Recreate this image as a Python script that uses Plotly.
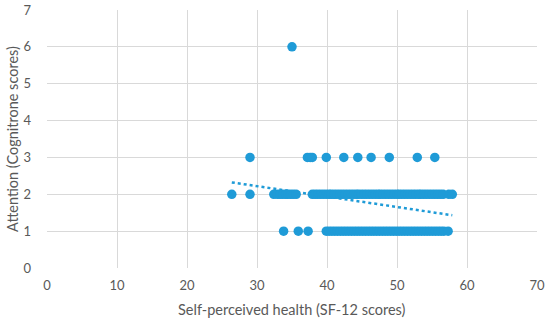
import plotly.graph_objects as go

# Data
x_row1 = [33.8, 35.9, 37.3, 39.9, 40.3, 40.7, 41.1, 41.5, 41.9, 42.3, 42.7, 43.1, 43.5,
          43.9, 44.3, 44.7, 45.1, 45.5, 45.9, 46.3, 46.7, 47.1, 47.5, 47.9, 48.3, 48.7,
          49.1, 49.5, 49.9, 50.3, 50.7, 51.1, 51.5, 51.9, 52.3, 52.7, 53.1, 53.5, 53.9,
          54.3, 54.7, 55.1, 55.5, 55.9, 56.3, 56.7, 57.3]
x_row2 = [26.4, 29.0, 32.4, 32.9, 33.3, 33.7, 34.1, 34.4, 34.8, 35.2, 35.6, 37.9, 38.3,
          38.7, 39.1, 39.5, 39.9, 40.3, 40.6, 41.0, 41.4, 41.8, 42.2, 42.6, 43.0, 43.4,
          43.8, 44.2, 44.5, 44.9, 45.3, 45.7, 46.1, 46.5, 46.9, 47.3, 47.6, 48.0, 48.4,
          48.8, 49.2, 49.6, 50.0, 50.3, 50.7, 51.1, 51.5, 51.9, 52.3, 52.7, 53.1, 53.4,
          53.8, 54.2, 54.6, 55.0, 55.4, 55.8, 56.2, 56.6, 57.4, 57.9]
x_row3 = [29.0, 37.2, 37.6, 37.9, 39.9, 42.4, 44.4, 46.3, 48.9, 52.9, 55.4]
x_row6 = [35.0]

trend_slope = -0.0283
trend_intercept = 3.07

x_ticks = [0, 10, 20, 30, 40, 50, 60, 70]
y_ticks = [0, 1, 2, 3, 4, 5, 6, 7]
x_title = "Self-perceived health (SF-12 scores)"
y_title = "Attention (Cognitrone scores)"

xs = x_row1 + x_row2 + x_row3 + x_row6
ys = [1] * len(x_row1) + [2] * len(x_row2) + [3] * len(x_row3) + [6] * len(x_row6)

blue = "#1F9BD7"
grey_text = "#595959"
grid = "#D9D9D9"

fig = go.Figure()
fig.add_trace(go.Scatter(
    x=xs, y=ys, mode="markers",
    marker=dict(size=9.5, color=blue, line=dict(width=0)),
    showlegend=False, hoverinfo="x+y",
))
tx = [min(xs), max(xs)]
ty = [trend_intercept + trend_slope * v for v in tx]
fig.add_trace(go.Scatter(
    x=tx, y=ty, mode="lines",
    line=dict(color=blue, width=2.5, dash="dot"),
    showlegend=False, hoverinfo="skip",
))

font_family = "Lato, Open Sans, sans-serif"
fig.update_layout(
    width=550, height=324,
    margin=dict(l=47, r=13, t=10, b=56, autoexpand=False),
    paper_bgcolor="white", plot_bgcolor="white",
    font=dict(family=font_family, color=grey_text, size=13),
    xaxis=dict(
        range=[0, 70], tickvals=x_ticks, automargin=False,
        showgrid=True, gridcolor=grid, gridwidth=1,
        zeroline=False, showline=False, ticks="",
        ticklabelstandoff=8,
        tickfont=dict(size=13, color=grey_text),
    ),
    yaxis=dict(
        range=[0, 7], tickvals=y_ticks, automargin=False,
        showgrid=True, gridcolor=grid, gridwidth=1,
        zeroline=False, showline=False, ticks="",
        ticklabelstandoff=15,
        tickfont=dict(size=13, color=grey_text),
    ),
    annotations=[
        dict(text=x_title, xref="paper", yref="paper", x=0.5, y=0,
             xanchor="center", yanchor="middle", yshift=-41, showarrow=False,
             font=dict(size=14.5, color=grey_text)),
        dict(text=y_title, xref="paper", yref="paper", x=0, y=0.5,
             xanchor="center", yanchor="middle", xshift=-35, textangle=-90,
             showarrow=False, font=dict(size=14.5, color=grey_text)),
    ],
)

fig.write_html("out.html",
               config={"displayModeBar": False},
               post_script="document.body.style.margin='0';document.body.style.overflow='hidden';")
